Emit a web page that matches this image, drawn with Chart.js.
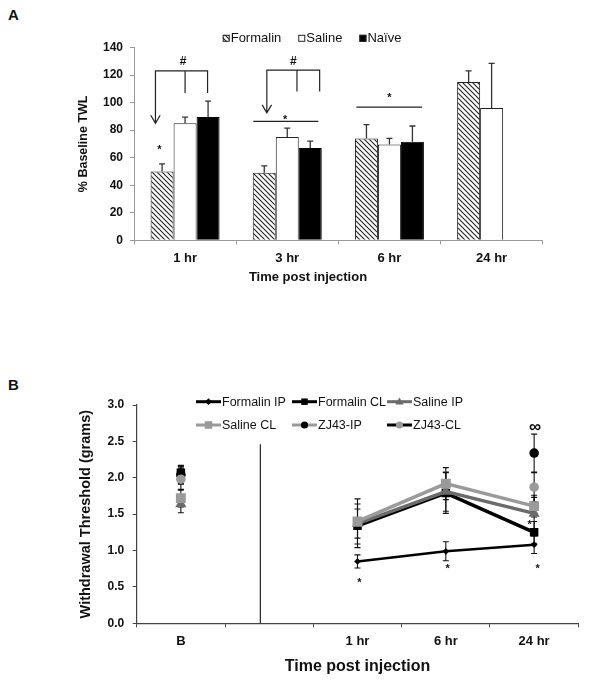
<!DOCTYPE html>
<html><head><meta charset="utf-8">
<script src="https://cdn.jsdelivr.net/npm/chart.js@4/dist/chart.umd.min.js"></script>
<style>
html,body{margin:0;padding:0;background:#fff;}
#wrap{position:relative;width:600px;height:689px;overflow:hidden;background:#fff;font-family:"Liberation Sans",Arial,sans-serif;}
#cA{position:absolute;left:0;top:0;}
#cB{position:absolute;left:0;top:370px;}
.panel{position:absolute;font-weight:bold;font-size:15px;line-height:17px;color:#111;}
</style></head><body>
<div id="wrap">
<div class="panel" style="left:8px;top:6px">A</div>
<div class="panel" style="left:8px;top:376px">B</div>
<canvas id="cA" width="600" height="300"></canvas>
<canvas id="cB" width="600" height="319"></canvas>
</div>
<script>
// ---------- Panel A data ----------
const timeLabelsA = ['1 hr', '3 hr', '6 hr', '24 hr'];
const seriesNamesA = ['Formalin', 'Saline', 'Naïve'];
const formalinA = [50, 49, 74, 115];
const salineA = [85, 75, 69.5, 96];
const naiveA = [89.5, 67, 71.5, null];
const formalinErrA = [5.5, 5, 10, 8];
const salineErrA = [4.5, 6.5, 4.5, 32.5];
const naiveErrA = [11.5, 5, 11.5, null];
const yTicksA = [0, 20, 40, 60, 80, 100, 120, 140];

// Panel A annotations (x in category index units, y in data units)
const bracketsA = [
  {x: [-0.29, 0.0, 0.22], top: 123, tip: 85, ends: [107, 107]},
  {x: [0.80, 1.095, 1.317], top: 123.5, tip: 92.5, ends: [108, 108]}
];
const hashesA = [{x: -0.02, y: 130}, {x: 1.06, y: 130}];
const starsA = [{x: -0.252, y: 68}, {x: 0.98, y: 89.7}, {x: 2.0, y: 105.6}];
const sigLinesA = [{x1: 0.667, x2: 1.304, y: 86.3}, {x1: 1.676, x2: 2.32, y: 96.7}];

// ---------- Panel B data ----------
const timeLabelsB = ['B', '', '1 hr', '6 hr', '24 hr'];
const seriesNamesB = ['Formalin IP', 'Formalin CL', 'Saline IP', 'Saline CL', 'ZJ43-IP', 'ZJ43-CL'];
const formalinIP = [2.03, null, 0.85, 0.99, 1.08];
const formalinCL = [2.07, null, 1.34, 1.79, 1.25];
const salineIP = [1.64, null, 1.37, 1.81, 1.51];
const salineCL = [1.72, null, 1.40, 1.92, 1.61];
const zj43IP = [2.04, null, null, null, 2.34];
const zj43CL = [1.98, null, null, null, 1.87];
const formalinIPErr = [0.12, null, 0.09, 0.13, 0.12];
const formalinCLErr = [0.10, null, 0.30, 0.28, 0.15];
const salineIPErr = [0.12, null, 0.20, 0.27, 0.22];
const salineCLErr = [0.12, null, 0.31, 0.22, 0.15];
const zj43IPErr = [0.12, null, null, null, 0.26];
const zj43CLErr = [0.15, null, null, null, 0.20];
const yTicksB = [0, 0.5, 1.0, 1.5, 2.0, 2.5, 3.0];

// Panel B annotations
const dividerB = {x: 0.9, top: 2.46};
const starsB = [{x: 2.02, y: 0.60}, {x: 3.02, y: 0.79}, {x: 4.04, y: 0.79}, {x: 3.95, y: 1.40}];
const infinityB = {x: 4.01, y: 2.70};

const FONT = '"Liberation Sans", Arial, sans-serif';

// hatch pattern
function makeHatch(ctx) {
  const p = 5;
  const c = document.createElement('canvas'); c.width = p; c.height = p;
  const g = c.getContext('2d');
  g.fillStyle = '#fff'; g.fillRect(0, 0, p, p);
  g.strokeStyle = '#222'; g.lineWidth = 1.1;
  g.beginPath();
  g.moveTo(-1, -1); g.lineTo(p + 1, p + 1);
  g.moveTo(-1, p - 1); g.lineTo(1, p + 1);
  g.moveTo(p - 1, -1); g.lineTo(p + 1, 1);
  g.stroke();
  return ctx.createPattern(c, 'repeat');
}

const ctxA = document.getElementById('cA').getContext('2d');
const hatch = makeHatch(ctxA);

function drawStar(ctx, x, y, size) {
  ctx.font = 'bold ' + size + 'px ' + FONT;
  ctx.textAlign = 'center'; ctx.textBaseline = 'alphabetic';
  ctx.fillText('*', x, y + size * 0.57);
}

const annotA = {
  id: 'annotA',
  afterDatasetsDraw(chart) {
    const ctx = chart.ctx, xs = chart.scales.x, ys = chart.scales.y;
    ctx.save();
    const vals = [formalinA, salineA, naiveA];
    const errs = [formalinErrA, salineErrA, naiveErrA];
    ctx.strokeStyle = '#333'; ctx.lineWidth = 1.3;
    errs.forEach((e, i) => {
      const meta = chart.getDatasetMeta(i);
      e.forEach((err, j) => {
        if (err == null || vals[i][j] == null) return;
        const el = meta.data[j];
        const yT = ys.getPixelForValue(vals[i][j] + err);
        ctx.beginPath();
        ctx.moveTo(el.x, el.y); ctx.lineTo(el.x, yT);
        ctx.moveTo(el.x - 3, yT); ctx.lineTo(el.x + 3, yT);
        ctx.stroke();
      });
    });
    ctx.strokeStyle = '#222'; ctx.lineWidth = 1.2;
    bracketsA.forEach(b => {
      const px = b.x.map(v => xs.getPixelForValue(v));
      const yTop = ys.getPixelForValue(b.top);
      const tipY = ys.getPixelForValue(b.tip);
      ctx.beginPath();
      ctx.moveTo(px[0], tipY); ctx.lineTo(px[0], yTop); ctx.lineTo(px[2], yTop);
      ctx.lineTo(px[2], ys.getPixelForValue(b.ends[1]));
      ctx.moveTo(px[1], yTop); ctx.lineTo(px[1], ys.getPixelForValue(b.ends[0]));
      ctx.moveTo(px[0] - 4.7, tipY - 8); ctx.lineTo(px[0], tipY); ctx.lineTo(px[0] + 4.7, tipY - 8);
      ctx.stroke();
    });
    sigLinesA.forEach(l => {
      const y = ys.getPixelForValue(l.y);
      ctx.beginPath();
      ctx.moveTo(xs.getPixelForValue(l.x1), y); ctx.lineTo(xs.getPixelForValue(l.x2), y);
      ctx.stroke();
    });
    ctx.fillStyle = '#111';
    ctx.font = 'bold 12px ' + FONT; ctx.textAlign = 'center'; ctx.textBaseline = 'middle';
    hashesA.forEach(h => ctx.fillText('#', xs.getPixelForValue(h.x), ys.getPixelForValue(h.y)));
    starsA.forEach(s => drawStar(ctx, xs.getPixelForValue(s.x), ys.getPixelForValue(s.y), 11));
    // x-axis title
    ctx.font = 'bold 13px ' + FONT; ctx.textBaseline = 'middle'; ctx.textAlign = 'center';
    ctx.fillText('Time post injection', 308, 277);
    // legend
    let lx = 222.7; const ly = 38.3;
    ctx.font = '13px ' + FONT; ctx.textAlign = 'left';
    chart.data.datasets.forEach((ds, i) => {
      ctx.fillStyle = ds.backgroundColor;
      ctx.fillRect(lx, ly - 3.5, 7, 7);
      ctx.strokeStyle = '#222'; ctx.lineWidth = 1;
      ctx.strokeRect(lx + 0.5, ly - 3, 6, 6);
      ctx.fillStyle = '#111';
      ctx.fillText(ds.label, lx + 8, ly + 0.5);
      lx += 8 + ctx.measureText(ds.label).width + 17;
    });
    ctx.restore();
  }
};

new Chart(ctxA, {
  type: 'bar',
  data: {
    labels: timeLabelsA,
    datasets: [
      {label: seriesNamesA[0], data: formalinA, backgroundColor: hatch, borderColor: '#222', borderWidth: 1},
      {label: seriesNamesA[1], data: salineA, backgroundColor: '#ffffff', borderColor: '#222', borderWidth: 1},
      {label: seriesNamesA[2], data: naiveA, backgroundColor: '#000000', borderColor: '#000', borderWidth: 1}
    ]
  },
  options: {
    responsive: false, devicePixelRatio: 1, animation: false,
    layout: {padding: {left: 0, right: 57.3, top: 47.5, bottom: 0}},
    categoryPercentage: 0.675, barPercentage: 1.0,
    plugins: {legend: {display: false}, tooltip: {enabled: false}},
    scales: {
      x: {
        offset: true,
        grid: {display: true, offset: true, drawOnChartArea: false, drawTicks: true, tickLength: 4, color: '#999'},
        border: {display: true, color: '#999', width: 1},
        ticks: {font: {family: FONT, size: 13, weight: 'bold'}, color: '#111', padding: 6},
        afterFit(s) { s.height = 59.7; }
      },
      y: {
        min: 0, max: 140,
        afterBuildTicks(s) { s.ticks = yTicksA.map(v => ({value: v})); },
        grid: {display: true, drawOnChartArea: false, drawTicks: true, tickLength: 4, color: '#999'},
        border: {display: true, color: '#999', width: 1},
        ticks: {font: {family: FONT, size: 12, weight: 'bold'}, color: '#111', padding: 7},
        title: {display: true, text: '% Baseline TWL', font: {family: FONT, size: 12.5, weight: 'bold'}, color: '#111', padding: {top: 76, bottom: 0}},
        afterFit(s) { s.width = 134; }
      }
    }
  },
  plugins: [annotA]
});

// ---------- Panel B ----------
const styleB = [
  {line: '#000', lw: 2.5, marker: 'diamond', mColor: '#000', r: 4.5},
  {line: '#000', lw: 3.5, marker: 'rect', mColor: '#000', r: 6},
  {line: '#6b6b6b', lw: 3.5, marker: 'triangle', mColor: '#6b6b6b', r: 6.5},
  {line: '#9a9a9a', lw: 3.5, marker: 'rect', mColor: '#9a9a9a', r: 7},
  {line: '#9a9a9a', lw: 3.5, marker: 'circle', mColor: '#000', r: 4.8},
  {line: '#000', lw: 3.5, marker: 'circle', mColor: '#9a9a9a', r: 4.8}
];
const valsB = [formalinIP, formalinCL, salineIP, salineCL, zj43IP, zj43CL];
const errsB = [formalinIPErr, formalinCLErr, salineIPErr, salineCLErr, zj43IPErr, zj43CLErr];

function drawMarker(ctx, type, x, y, r, color) {
  ctx.fillStyle = color;
  ctx.beginPath();
  if (type === 'circle') { ctx.arc(x, y, r, 0, Math.PI * 2); }
  else if (type === 'rect') { const s = r * 0.72; ctx.rect(x - s, y - s, 2 * s, 2 * s); }
  else if (type === 'diamond') { ctx.moveTo(x, y - r); ctx.lineTo(x + r, y); ctx.lineTo(x, y + r); ctx.lineTo(x - r, y); ctx.closePath(); }
  else if (type === 'triangle') { const h = r * 1.4; ctx.moveTo(x, y - h * 0.6); ctx.lineTo(x + r * 0.85, y + h * 0.4); ctx.lineTo(x - r * 0.85, y + h * 0.4); ctx.closePath(); }
  ctx.fill();
}

const legendColsB = [196, 292, 387];
const legendRowsB = [31.7, 55];

const annotB = {
  id: 'annotB',
  beforeDatasetsDraw(chart) {
    const ctx = chart.ctx, xs = chart.scales.x, ys = chart.scales.y;
    ctx.save();
    ctx.strokeStyle = '#222'; ctx.lineWidth = 1.2;
    const dx = xs.getPixelForValue(dividerB.x);
    ctx.beginPath(); ctx.moveTo(dx, ys.getPixelForValue(0)); ctx.lineTo(dx, ys.getPixelForValue(dividerB.top)); ctx.stroke();
    ctx.strokeStyle = '#111'; ctx.lineWidth = 1.1;
    errsB.forEach((e, i) => {
      const meta = chart.getDatasetMeta(i);
      e.forEach((err, j) => {
        if (err == null || valsB[i][j] == null) return;
        const x = meta.data[j].x;
        const y1 = ys.getPixelForValue(valsB[i][j] + err), y2 = ys.getPixelForValue(valsB[i][j] - err);
        ctx.beginPath();
        ctx.moveTo(x, y1); ctx.lineTo(x, y2);
        ctx.moveTo(x - 3, y1); ctx.lineTo(x + 3, y1);
        ctx.moveTo(x - 3, y2); ctx.lineTo(x + 3, y2);
        ctx.stroke();
      });
    });
    ctx.restore();
  },
  afterDatasetsDraw(chart) {
    const ctx = chart.ctx, xs = chart.scales.x, ys = chart.scales.y;
    ctx.save();
    ctx.fillStyle = '#111';
    starsB.forEach(s => drawStar(ctx, xs.getPixelForValue(s.x), ys.getPixelForValue(s.y), 11));
    ctx.font = 'bold 17px ' + FONT; ctx.textAlign = 'center'; ctx.textBaseline = 'middle';
    ctx.fillText('∞', xs.getPixelForValue(infinityB.x), ys.getPixelForValue(infinityB.y));
    ctx.font = '12.5px ' + FONT; ctx.textAlign = 'left'; ctx.textBaseline = 'middle';
    seriesNamesB.forEach((name, i) => {
      const st = styleB[i];
      const x = legendColsB[i % 3], y = legendRowsB[Math.floor(i / 3)];
      ctx.strokeStyle = st.line; ctx.lineWidth = 3;
      ctx.beginPath(); ctx.moveTo(x, y); ctx.lineTo(x + 25, y); ctx.stroke();
      drawMarker(ctx, st.marker, x + 12.5, y, st.r * 0.75, st.mColor);
      ctx.fillStyle = '#111';
      ctx.fillText(name, x + 26, y + 0.5);
    });
    ctx.restore();
  }
};

const pointStyleMap = {circle: 'circle', rect: 'rect', diamond: 'rectRot', triangle: 'triangle'};

new Chart(document.getElementById('cB').getContext('2d'), {
  type: 'line',
  data: {
    labels: timeLabelsB,
    datasets: valsB.map((v, i) => ({
      label: seriesNamesB[i], data: v,
      borderColor: styleB[i].line, borderWidth: styleB[i].lw,
      backgroundColor: styleB[i].mColor,
      pointStyle: pointStyleMap[styleB[i].marker],
      pointRadius: styleB[i].marker === 'rect' ? styleB[i].r : (styleB[i].marker === 'diamond' ? styleB[i].r * 0.75 : styleB[i].r),
      pointBackgroundColor: styleB[i].mColor, pointBorderColor: styleB[i].mColor, pointBorderWidth: 0,
      tension: 0, spanGaps: false, order: 5 - i
    }))
  },
  options: {
    responsive: false, devicePixelRatio: 1, animation: false,
    layout: {padding: {left: 0, right: 21.7, top: 35, bottom: 0}},
    plugins: {legend: {display: false}, tooltip: {enabled: false}},
    scales: {
      x: {
        offset: true,
        grid: {display: true, offset: true, drawOnChartArea: false, drawTicks: true, tickLength: 4, color: '#444'},
        border: {display: true, color: '#444', width: 1.2},
        ticks: {font: {family: FONT, size: 13, weight: 'bold'}, color: '#111', padding: 6, autoSkip: false, maxRotation: 0},
        title: {display: true, text: 'Time post injection', font: {family: FONT, size: 16, weight: 'bold'}, color: '#111', padding: {top: 0, bottom: 12.7}},
        afterFit(s) { s.height = 65.7; }
      },
      y: {
        min: 0, max: 3,
        afterBuildTicks(s) { s.ticks = yTicksB.map(v => ({value: v})); },
        grid: {display: true, drawOnChartArea: false, drawTicks: true, tickLength: 4, color: '#444'},
        border: {display: true, color: '#444', width: 1.2},
        ticks: {font: {family: FONT, size: 12, weight: 'bold'}, color: '#111', padding: 8.5, callback: v => Number(v).toFixed(1)},
        title: {display: true, text: 'Withdrawal Threshold (grams)', font: {family: FONT, size: 14.5, weight: 'bold'}, color: '#111', padding: {top: 77.6, bottom: 0}},
        afterFit(s) { s.width = 136.7; }
      }
    }
  },
  plugins: [annotB]
});
</script>
</body></html>
